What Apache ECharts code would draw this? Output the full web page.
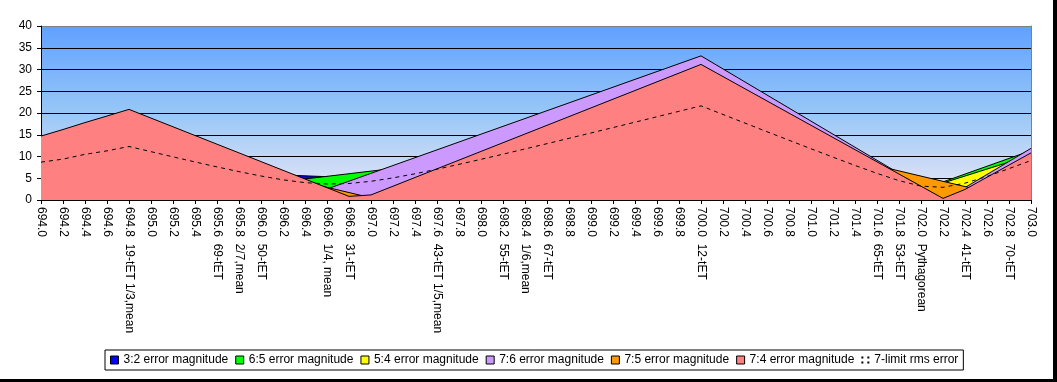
<!DOCTYPE html>
<html><head><meta charset="utf-8">
<script src="https://cdn.jsdelivr.net/npm/echarts/dist/echarts.min.js"></script>
<style>html,body{margin:0;padding:0;background:#fff}#c{width:1057px;height:382px}</style>
</head><body><div id="c"></div>
<script>
const categories = ['694.0','694.2','694.4','694.6','694.8  19-tET 1/3,mean','695.0','695.2','695.4','695.6  69-tET','695.8  2/7,mean','696.0  50-tET','696.2','696.4','696.6  1/4, mean','696.8  31-tET','697.0','697.2','697.4','697.6  43-tET 1/5,mean','697.8','698.0','698.2  55-tET','698.4  1/6,mean','698.6  67-tET','698.8','699.0','699.2','699.4','699.6','699.8','700.0  12-tET','700.2','700.4','700.6','700.8','701.0','701.2','701.4','701.6  65-tET','701.8  53-tET','702.0  Pythagorean','702.2','702.4  41-tET','702.6','702.8  70-tET','703.0'];
const seriesNames = ['3:2 error magnitude','6:5 error magnitude','5:4 error magnitude','7:6 error magnitude','7:5 error magnitude','7:4 error magnitude','7-limit rms error'];
const yTicks = [0,5,10,15,20,25,30,35,40];

const err32 = [6.6,6.7,6.9,7.0,7.16,6.96,6.76,6.56,6.36,6.16,5.96,5.76,5.56,5.36,5.16,4.96,4.76,4.56,4.36,4.16,3.96,3.76,3.56,3.36,3.16,2.96,2.76,2.56,2.36,2.16,1.96,1.76,1.56,1.36,1.16,0.96,0.76,0.56,0.36,0.16,0.05,0.25,0.45,0.65,0.85,1.05];
const err65 = [1.8,1.3,0.9,0.4,0.04,0.64,1.24,1.84,2.44,3.04,3.64,4.24,4.84,5.44,6.04,6.64,7.24,7.84,8.44,9.04,9.64,10.24,10.84,11.44,12.04,12.64,13.24,13.84,14.44,15.04,15.64,13.84,12.04,10.24,8.44,6.64,4.84,3.04,1.24,0.56,2.36,4.16,5.96,7.76,9.56,11.36];
const err54 = [4.7,5.3,6.0,6.6,7.11,6.31,5.51,4.71,3.91,3.11,2.31,1.51,0.71,0.09,0.89,1.69,2.49,3.29,4.09,4.89,5.69,6.49,7.29,8.09,8.89,9.69,10.49,11.29,12.09,12.89,13.69,12.09,10.49,8.89,7.29,5.69,4.09,2.49,0.89,0.71,2.31,3.91,5.51,7.11,8.71,10.31];
const err76 = [8.3,9.6,11.0,12.3,13.67,11.87,10.07,8.27,6.47,4.67,2.87,1.07,0.73,2.53,4.33,6.13,7.93,9.73,11.53,13.33,15.13,16.93,18.73,20.53,22.33,24.13,25.93,27.73,29.53,31.33,33.13,30.13,27.13,24.13,21.13,18.13,15.13,12.13,9.13,6.13,3.13,0.13,2.87,5.87,8.87,11.87];
const err75 = [10.1,11.0,12.0,12.8,13.71,12.51,11.31,10.11,8.91,7.71,6.51,5.31,4.11,2.91,1.71,0.51,0.69,1.89,3.09,4.29,5.49,6.69,7.89,9.09,10.29,11.49,12.69,13.89,15.09,16.29,17.49,16.29,15.09,13.89,12.69,11.49,10.29,9.09,7.89,6.69,5.49,4.29,3.09,1.89,0.69,0.51];
const err74 = [14.7,16.2,17.8,19.3,20.83,18.83,16.83,14.83,12.83,10.83,8.83,6.83,4.83,2.83,0.83,1.17,3.17,5.17,7.17,9.17,11.17,13.17,15.17,17.17,19.17,21.17,23.17,25.17,27.17,29.17,31.17,28.37,25.57,22.77,19.97,17.17,14.37,11.57,8.77,5.97,3.17,0.37,2.43,5.23,8.03,10.83];
const rmsErr = [8.7,9.4,10.5,11.3,12.30,11.11,9.92,8.75,7.61,6.52,5.52,4.64,3.99,3.68,3.79,4.30,5.08,6.03,7.08,8.20,9.35,10.53,11.74,12.95,14.18,15.41,16.65,17.89,19.14,20.39,21.64,19.66,17.68,15.70,13.74,11.78,9.85,7.95,6.12,4.45,3.19,2.92,3.87,5.42,7.21,9.08];

const font = '"Liberation Sans", Arial, sans-serif';
const fills = ['#0000FF','#00FF00','#FFFF00','#CC99FF','#FF9900','#FF8080'];
const areaData = [err32, err65, err54, err76, err75, err74];

const series = areaData.map((d, k) => ({
  name: seriesNames[k], type: 'line', data: d, symbol: 'none', smooth: false,
  z: 2 + k,
  lineStyle: { color: '#000', width: 1 },
  itemStyle: { color: fills[k] },
  areaStyle: { color: fills[k], opacity: 1 },
  emphasis: { disabled: true }
}));
series.push({
  name: seriesNames[6], type: 'line', data: rmsErr, symbol: 'none', z: 10,
  lineStyle: { color: '#000', width: 1, type: [4, 4] },
  itemStyle: { color: '#000' }, emphasis: { disabled: true }
});

const chart = echarts.init(document.getElementById('c'), null, { renderer: 'canvas' });
chart.setOption({
  animation: false,
  backgroundColor: '#fff',
  grid: {
    left: 41, right: 26, top: 26, bottom: 182, containLabel: false, outerBoundsMode: 'none',
    show: true, borderWidth: 0,
    backgroundColor: new echarts.graphic.LinearGradient(0, 0, 0, 1, [
      { offset: 0, color: '#60A0FF' },
      { offset: 0.5, color: '#98C7F7' },
      { offset: 1, color: '#ECE8F6' }
    ])
  },
  xAxis: {
    type: 'category', data: categories, boundaryGap: false, z: 20,
    axisLine: { show: true, lineStyle: { color: '#000', width: 1 } },
    axisTick: { show: true, length: 4, interval: 0, lineStyle: { color: '#000' } },
    axisLabel: { interval: 0, rotate: -90, fontFamily: font, fontSize: 12, color: '#000', margin: 7 },
    splitLine: { show: false }
  },
  yAxis: [{
    type: 'value', min: yTicks[0], max: yTicks[yTicks.length - 1], interval: yTicks[1] - yTicks[0], z: 1,
    axisLine: { show: true, lineStyle: { color: '#000' } },
    axisTick: { show: true, length: 4, lineStyle: { color: '#000' } },
    axisLabel: { fontFamily: font, fontSize: 12, color: '#000', margin: 9 },
    splitLine: { show: true, lineStyle: { color: ['#000','#000','#000','#000','#000','#000','#000','#000','#808080'], width: 1 } }
  }, {
    type: 'value', position: 'right', min: 0, max: 40, interval: 5, z: 20,
    axisLine: { show: true, lineStyle: { color: '#808080' } },
    axisTick: { show: false }, axisLabel: { show: false }, splitLine: { show: false }
  }],
  legend: {
    left: 105, top: 350, orient: 'horizontal',
    itemWidth: 8, itemHeight: 8, itemGap: 7,
    padding: [4, 5, 4, 5],
    borderColor: '#000', borderWidth: 1, backgroundColor: '#fff',
    selectedMode: false,
    textStyle: { fontFamily: font, fontSize: 12, color: '#000' },
    data: seriesNames.map((n, k) => k < 6
      ? { name: n, icon: 'rect', itemStyle: { color: fills[k], borderColor: '#000', borderWidth: 1 } }
      : { name: n, icon: 'path://M0,1h2v2h-2z M0,6h2v2h-2z M6,1h2v2h-2z M6,6h2v2h-2z', itemStyle: { color: '#000', borderWidth: 0 } })
  },
  graphic: [
    { type: 'rect', shape: { x: 1053, y: 0, width: 4, height: 382 }, style: { fill: '#000' }, silent: true },
    { type: 'rect', shape: { x: 0, y: 379, width: 1057, height: 3 }, style: { fill: '#000' }, silent: true }
  ],
  series: series
});
</script>
</body></html>
